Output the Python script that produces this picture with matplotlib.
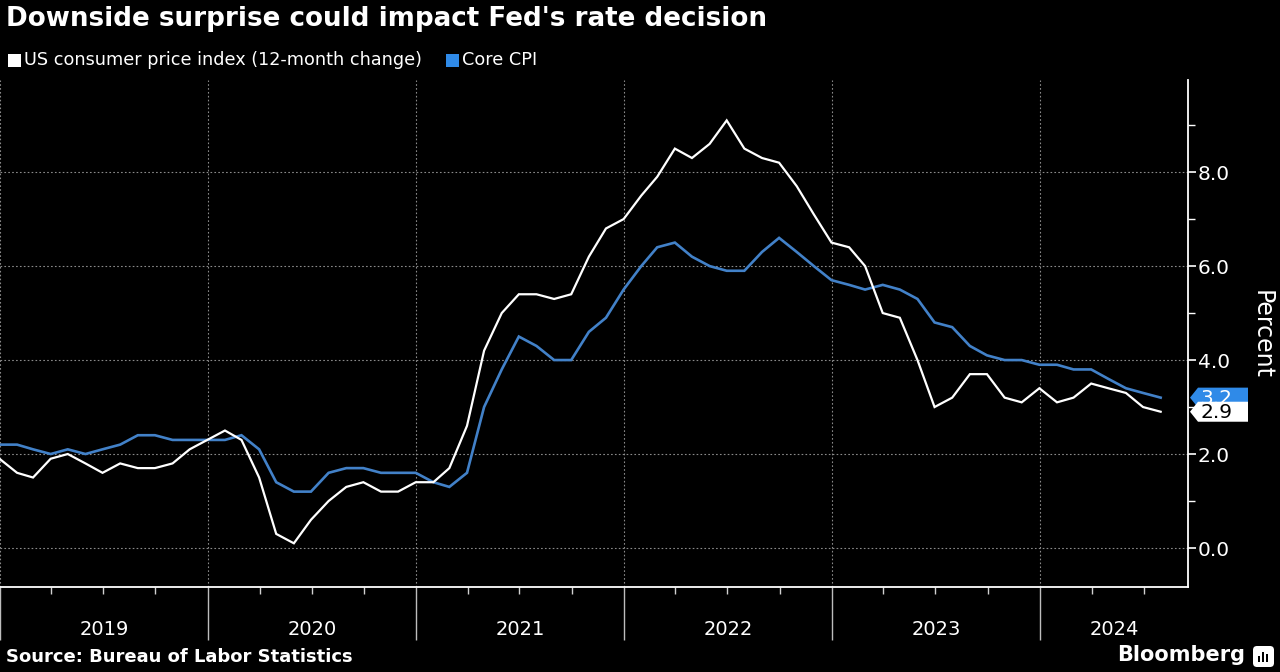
import matplotlib
matplotlib.use('Agg')
import matplotlib.pyplot as plt
import matplotlib.dates as mdates
import matplotlib.patches as plp
import matplotlib.transforms as mtr
import pandas as pd

# 12-month change, Dec 2018 .. Jul 2024
cpi = [1.9,
       1.6, 1.5, 1.9, 2.0, 1.8, 1.6, 1.8, 1.7, 1.7, 1.8, 2.1, 2.3,
       2.5, 2.3, 1.5, 0.3, 0.1, 0.6, 1.0, 1.3, 1.4, 1.2, 1.2, 1.4,
       1.4, 1.7, 2.6, 4.2, 5.0, 5.4, 5.4, 5.3, 5.4, 6.2, 6.8, 7.0,
       7.5, 7.9, 8.5, 8.3, 8.6, 9.1, 8.5, 8.3, 8.2, 7.7, 7.1, 6.5,
       6.4, 6.0, 5.0, 4.9, 4.0, 3.0, 3.2, 3.7, 3.7, 3.2, 3.1, 3.4,
       3.1, 3.2, 3.5, 3.4, 3.3, 3.0, 2.9]
core = [2.2,
        2.2, 2.1, 2.0, 2.1, 2.0, 2.1, 2.2, 2.4, 2.4, 2.3, 2.3, 2.3,
        2.3, 2.4, 2.1, 1.4, 1.2, 1.2, 1.6, 1.7, 1.7, 1.6, 1.6, 1.6,
        1.4, 1.3, 1.6, 3.0, 3.8, 4.5, 4.3, 4.0, 4.0, 4.6, 4.9, 5.5,
        6.0, 6.4, 6.5, 6.2, 6.0, 5.9, 5.9, 6.3, 6.6, 6.3, 6.0, 5.7,
        5.6, 5.5, 5.6, 5.5, 5.3, 4.8, 4.7, 4.3, 4.1, 4.0, 4.0, 3.9,
        3.9, 3.8, 3.8, 3.6, 3.4, 3.3, 3.2]
months = pd.date_range('2018-12-31', periods=len(cpi), freq='ME')
years = [2019, 2020, 2021, 2022, 2023, 2024]
yTicks = [0, 2, 4, 6, 8]
yMinor = [1, 3, 5, 7, 9]

cpiLabel = 'US consumer price index (12-month change)'
coreLabel = 'Core CPI'
white = '#ffffff'
blue = '#4281c8'
blueBright = '#2f8ae8'

W, H = 1280, 672
fig = plt.figure(figsize=(W / 100, H / 100), dpi=100, facecolor='black')
ax = fig.add_axes([0, 1 - 587 / H, 1188 / W, (587 - 80) / H])
ax.set_facecolor('black')

xStart = pd.Timestamp('2019-01-01')
xEnd = pd.Timestamp('2024-09-17')
ax.set_xlim(xStart, xEnd)
ax.set_ylim(-0.83, 9.96)

ax.plot(months, core, color=blue, lw=1.9, solid_joinstyle='miter', zorder=3)
ax.plot(months, cpi, color=white, lw=1.6, solid_joinstyle='miter', zorder=4)

# axes cosmetics
for side in ['left', 'top']:
    ax.spines[side].set_visible(False)
for side in ['right', 'bottom']:
    ax.spines[side].set_color(white)
    ax.spines[side].set_linewidth(1.3)

ax.yaxis.tick_right()
ax.set_yticks(yTicks)
ax.set_yticks(yMinor, minor=True)
ax.set_yticklabels(['%.1f' % v for v in yTicks])
ax.tick_params(axis='y', which='major', colors=white, labelcolor=white, labelsize=14.5,
               length=6, width=1.2, pad=1)
ax.tick_params(axis='y', which='minor', colors=white, length=5, width=1.0)
ax.grid(True, axis='y', color='#8a8a8a', lw=0.8, ls=(0, (1.5, 2)))

ax.xaxis.set_major_locator(mdates.YearLocator())
ax.xaxis.set_minor_locator(mdates.MonthLocator(bymonth=[4, 7, 10]))
ax.xaxis.set_major_formatter(plt.NullFormatter())
ax.tick_params(axis='x', which='major', colors='#bdbdbd', length=38, width=1.0)
ax.tick_params(axis='x', which='minor', colors='#d0d0d0', length=5, width=1.0)
ax.grid(True, axis='x', which='major', color='#8a8a8a', lw=0.8, ls=(0, (1.5, 2)))

# year labels centred in each visible year
trans = mtr.blended_transform_factory(ax.transData, ax.transAxes)
for yr in years:
    a = max(pd.Timestamp('%d-01-01' % yr), xStart)
    b = min(pd.Timestamp('%d-01-01' % (yr + 1)), xEnd)
    mid = a + (b - a) / 2
    ax.text(mid, -0.083, str(yr), transform=trans, ha='center', va='center',
            color=white, fontsize=14, clip_on=False)

# end-of-line value tags (white one drawn on top, as in the original)
fig.canvas.draw()
ident = mtr.IdentityTransform()
spineX = ax.transAxes.transform((1, 0))[0]
tags = [(core[-1], blueBright, white, 5), (cpi[-1], white, 'black', 7)]
for val, face, txtColor, z in tags:
    cy = ax.transData.transform((0, val))[1]
    tip = spineX + 2
    right = spineX + 60
    verts = [(tip, cy), (tip + 8, cy + 10), (right, cy + 10), (right, cy - 10), (tip + 8, cy - 10)]
    fig.add_artist(plp.Polygon(verts, closed=True, facecolor=face, edgecolor='none',
                               transform=ident, zorder=z))
    fig.text((tip + 10) / W, (cy - 1) / H, '%.1f' % val, color=txtColor, fontsize=14.5,
             ha='left', va='center', zorder=z + 0.5)

# title, legend, labels
fig.text(6 / W, 1 - 26 / H, "Downside surprise could impact Fed's rate decision",
         color=white, fontsize=18.8, fontweight='bold', ha='left', va='baseline')

for x0, label, color in [(8, cpiLabel, white), (446, coreLabel, blueBright)]:
    fig.add_artist(plp.Rectangle((x0, H - 67), 13, 13, facecolor=color, edgecolor='none',
                                 transform=ident))
    fig.text((x0 + 16) / W, 1 - 60 / H, label, color=white, fontsize=12.7,
             ha='left', va='center')

fig.text(1262 / W, 1 - 334 / H, 'Percent', color=white, fontsize=17, rotation=270,
         ha='center', va='center')

fig.text(6 / W, 1 - 657 / H, 'Source: Bureau of Labor Statistics', color=white,
         fontsize=13, fontweight='bold', ha='left', va='center')
fig.text(1245 / W, 1 - 655 / H, 'Bloomberg', color=white, fontsize=15,
         fontweight='bold', ha='right', va='center')

# small logo mark
fig.add_artist(plp.FancyBboxPatch((1253, H - 667), 21, 21, boxstyle='round,pad=0,rounding_size=4',
                                  facecolor=white, edgecolor='none', transform=ident))
for bx, bh in [(1258, 6), (1262, 10), (1266, 8)]:
    fig.add_artist(plp.Rectangle((bx, H - 662), 2.2, bh, facecolor='black', edgecolor='none',
                                 transform=ident))

fig.savefig('out.png', dpi=100, facecolor=fig.get_facecolor())
